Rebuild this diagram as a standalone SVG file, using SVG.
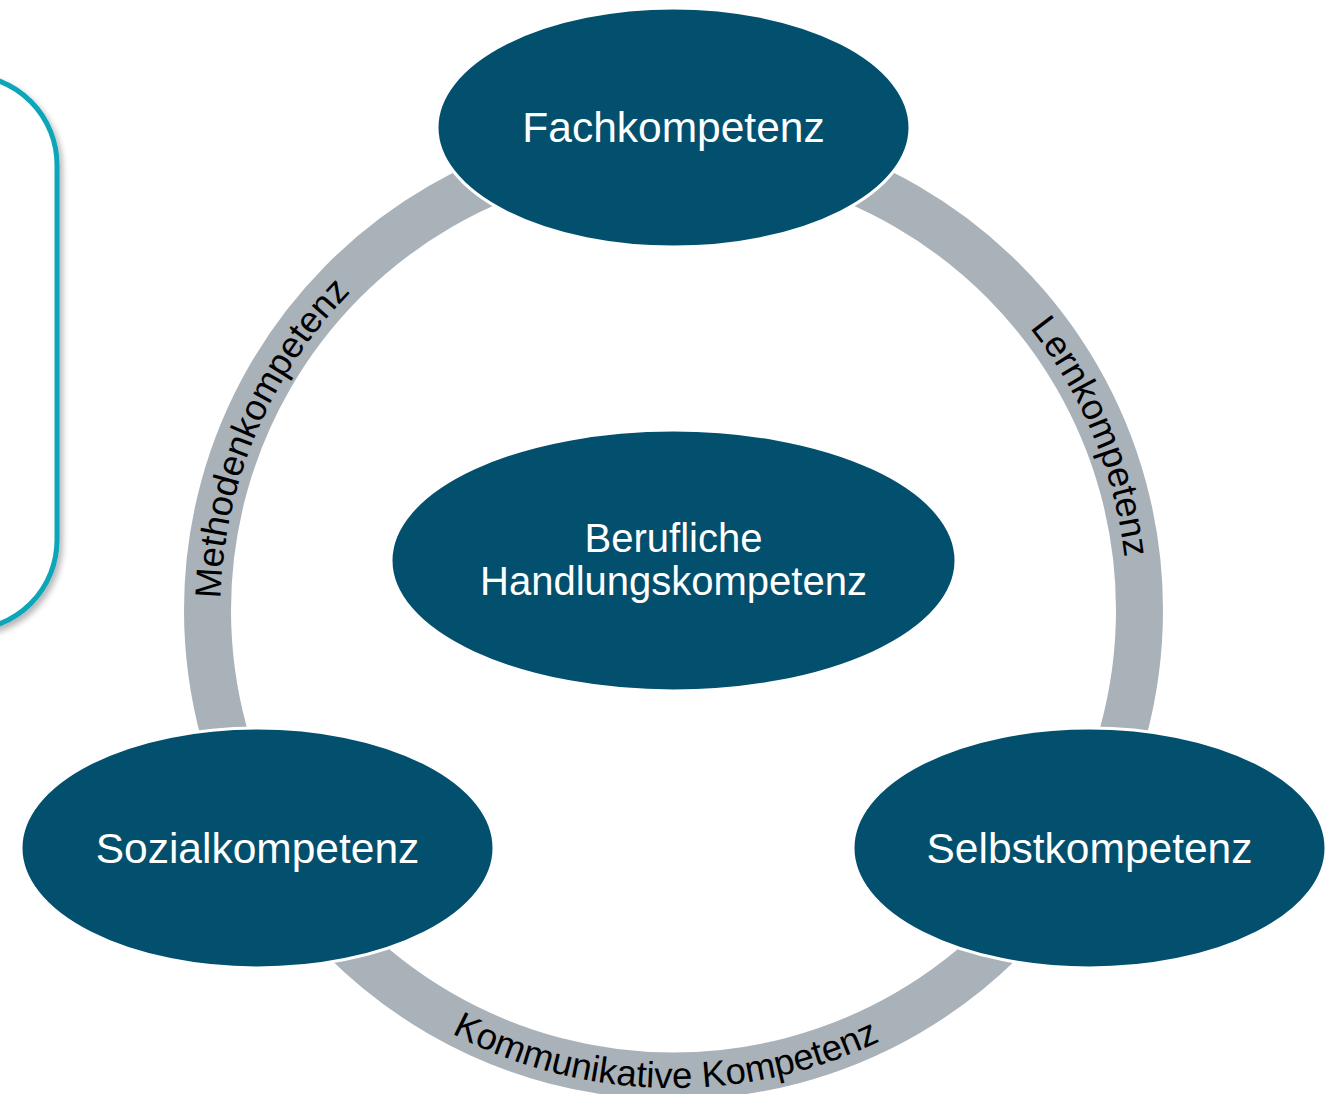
<svg xmlns="http://www.w3.org/2000/svg" width="1326" height="1094" viewBox="0 0 1326 1094">
  <style>
    .node { fill: #02506D; stroke: #FFFFFF; stroke-width: 3; }
    .node-label { font-family: "Liberation Sans", Arial, sans-serif; fill: #FFFFFF; text-anchor: middle; }
    .ring { fill: none; stroke: #A9B1B9; stroke-width: 47; stroke-linecap: butt; }
    .ring-label { font-family: "Liberation Sans", Arial, sans-serif; font-size: 36.5px; fill: #000000; }
    .frame { fill: #FFFFFF; stroke: #0AA5B8; stroke-width: 5; }
  </style>
  <defs>
    <filter id="soft-shadow" x="-20%" y="-20%" width="140%" height="140%">
      <feGaussianBlur in="SourceAlpha" stdDeviation="3"/>
      <feOffset dx="3" dy="4" result="blur"/>
      <feComponentTransfer><feFuncA type="linear" slope="0.3"/></feComponentTransfer>
      <feMerge><feMergeNode/><feMergeNode in="SourceGraphic"/></feMerge>
    </filter>
    <!-- baselines for the arc labels -->
    <path id="path-methoden" d="M 240.3 742.5 A 453 453 0 0 1 467.8 206.4"/>
    <path id="path-lern" d="M 883.1 207.3 A 453 453 0 0 1 1106.5 746.5"/>
    <path id="path-kommunikativ" d="M 359.9 970.7 A 478 478 0 0 0 974.3 981.5"/>
  </defs>

  <rect width="1326" height="1094" fill="#FFFFFF"/>

  <!-- side frame, cut off at the left border -->
  <g id="side-frame">
    <rect class="frame" x="-200" y="75" width="257" height="555" rx="90" ry="90" filter="url(#soft-shadow)"/>
  </g>

  <!-- ring segments joining the outer nodes -->
  <g id="connectors">
    <g id="edge-methodenkompetenz">
      <path class="ring" d="M 269.93 843 A 466 466 0 0 1 673.5 144"/>
      <text class="ring-label"><textPath href="#path-methoden" startOffset="50%" text-anchor="middle">Methodenkompetenz</textPath></text>
    </g>
    <g id="edge-lernkompetenz">
      <path class="ring" d="M 673.5 144 A 466 466 0 0 1 1077.07 843"/>
      <text class="ring-label"><textPath href="#path-lern" startOffset="50%" text-anchor="middle">Lernkompetenz</textPath></text>
    </g>
    <g id="edge-kommunikative-kompetenz">
      <path class="ring" d="M 1077.07 843 A 466 466 0 0 1 269.93 843"/>
      <text class="ring-label"><textPath href="#path-kommunikativ" startOffset="50%" text-anchor="middle">Kommunikative Kompetenz</textPath></text>
    </g>
  </g>

  <g id="node-fachkompetenz">
    <ellipse class="node" cx="673.5" cy="127.5" rx="236.5" ry="119.5"/>
    <text class="node-label" x="673.5" y="142" font-size="42.5">Fachkompetenz</text>
  </g>

  <g id="node-berufliche-handlungskompetenz">
    <ellipse class="node" cx="673.5" cy="560.5" rx="282.5" ry="130.5"/>
    <text class="node-label" x="673.5" y="552" font-size="40">Berufliche</text>
    <text class="node-label" x="673.5" y="595" font-size="40">Handlungskompetenz</text>
  </g>

  <g id="node-sozialkompetenz">
    <ellipse class="node" cx="257.5" cy="848" rx="236.5" ry="120"/>
    <text class="node-label" x="257.5" y="862.5" font-size="42.5">Sozialkompetenz</text>
  </g>

  <g id="node-selbstkompetenz">
    <ellipse class="node" cx="1089.5" cy="848" rx="236.5" ry="120"/>
    <text class="node-label" x="1089.5" y="862.5" font-size="42.5">Selbstkompetenz</text>
  </g>
</svg>
